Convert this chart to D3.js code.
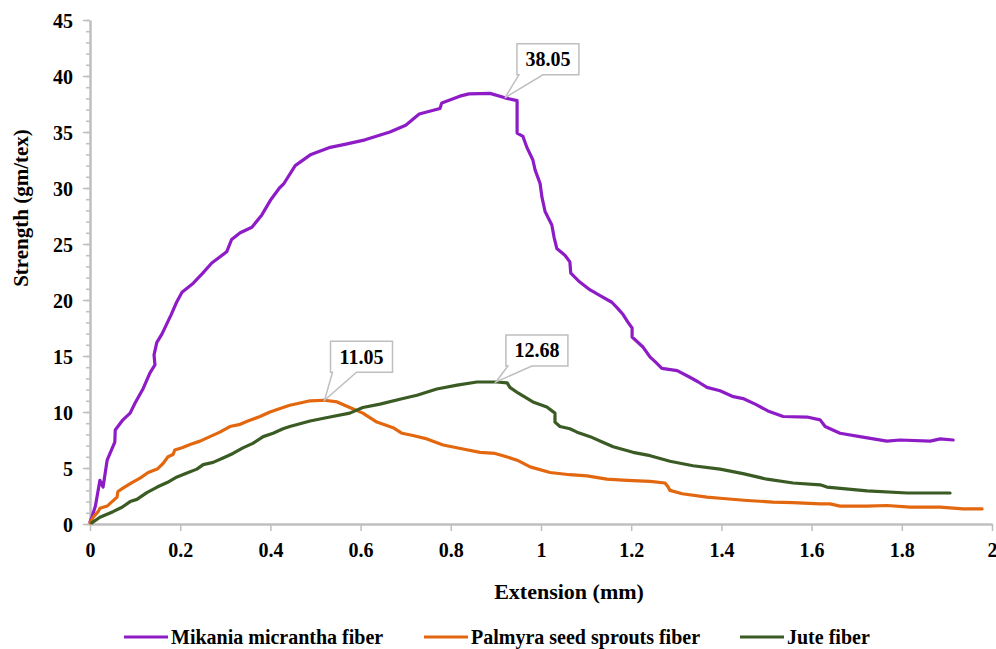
<!DOCTYPE html>
<html>
<head>
<meta charset="utf-8">
<script src="https://cdn.jsdelivr.net/npm/d3@7"></script>
<style>
  body { margin: 0; background: #fff; }
  svg { display: block; }
  text { font-family: "Liberation Serif", "Times New Roman", serif; font-weight: bold; fill: #000; }
</style>
</head>
<body>
<svg id="chart"></svg>
<script>
// series names + colours
const seriesNames = ['Mikania micrantha fiber', 'Palmyra seed sprouts fiber', 'Jute fiber'];
const seriesColors = ['#8e1cc6', '#e2670e', '#3b5b24'];

// Mikania micrantha fiber (extension mm, strength gm/tex)
const mikaniaX = [0, 0.004, 0.012, 0.022, 0.029, 0.038, 0.055, 0.056, 0.073, 0.089, 0.1, 0.104, 0.118, 0.133, 0.144, 0.142, 0.148, 0.16, 0.18, 0.192, 0.204, 0.229, 0.25, 0.27, 0.303, 0.314, 0.333, 0.359, 0.381, 0.4, 0.42, 0.43, 0.455, 0.49, 0.53, 0.565, 0.61, 0.665, 0.7, 0.73, 0.776, 0.78, 0.82, 0.84, 0.887, 0.92, 0.947, 0.947, 0.947, 0.96, 0.969, 0.982, 0.987, 0.998, 1.002, 1.009, 1.024, 1.029, 1.035, 1.053, 1.064, 1.066, 1.086, 1.109, 1.131, 1.157, 1.169, 1.182, 1.193, 1.202, 1.202, 1.226, 1.242, 1.253, 1.268, 1.302, 1.33, 1.348, 1.368, 1.397, 1.424, 1.448, 1.475, 1.503, 1.537, 1.59, 1.619, 1.63, 1.663, 1.707, 1.767, 1.796, 1.863, 1.885, 1.914];
const mikaniaY = [0.2, 0.6, 1.6, 3.9, 3.3, 5.7, 7.3, 8.4, 9.3, 9.9, 10.8, 11.1, 12.1, 13.5, 14.2, 15.1, 16.2, 17.0, 18.7, 19.8, 20.7, 21.5, 22.4, 23.3, 24.3, 25.4, 26.0, 26.5, 27.6, 28.9, 30.0, 30.4, 32.0, 33.0, 33.6, 33.9, 34.3, 35.0, 35.6, 36.6, 37.1, 37.6, 38.2, 38.4, 38.45, 38.05, 37.8, 37.0, 34.9, 34.6, 33.6, 32.5, 31.6, 30.4, 29.2, 27.9, 26.7, 25.6, 24.6, 24.0, 23.4, 22.4, 21.6, 20.9, 20.4, 19.8, 19.3, 18.7, 18.0, 17.5, 16.7, 15.8, 14.9, 14.5, 13.9, 13.7, 13.1, 12.7, 12.2, 11.9, 11.4, 11.2, 10.7, 10.1, 9.6, 9.55, 9.3, 8.7, 8.1, 7.8, 7.4, 7.5, 7.4, 7.6, 7.5];

// Palmyra seed sprouts fiber
const palmyraX = [0, 0.007, 0.018, 0.022, 0.038, 0.049, 0.06, 0.062, 0.073, 0.093, 0.111, 0.129, 0.149, 0.162, 0.173, 0.184, 0.188, 0.204, 0.222, 0.244, 0.266, 0.288, 0.31, 0.333, 0.35, 0.377, 0.399, 0.428, 0.443, 0.466, 0.488, 0.52, 0.548, 0.576, 0.605, 0.636, 0.672, 0.692, 0.716, 0.747, 0.783, 0.827, 0.865, 0.898, 0.916, 0.947, 0.976, 1.02, 1.064, 1.102, 1.146, 1.191, 1.242, 1.275, 1.282, 1.286, 1.313, 1.368, 1.397, 1.457, 1.514, 1.559, 1.619, 1.641, 1.663, 1.723, 1.767, 1.818, 1.885, 1.936, 1.978];
const palmyraY = [0.1, 0.6, 1.1, 1.4, 1.6, 2.0, 2.4, 2.9, 3.2, 3.7, 4.1, 4.6, 4.9, 5.4, 6.0, 6.2, 6.6, 6.8, 7.1, 7.4, 7.8, 8.2, 8.7, 8.9, 9.2, 9.6, 10.0, 10.4, 10.6, 10.8, 11.0, 11.05, 10.9, 10.4, 9.9, 9.1, 8.6, 8.1, 7.9, 7.6, 7.05, 6.7, 6.4, 6.3, 6.1, 5.7, 5.1, 4.6, 4.4, 4.3, 4.0, 3.9, 3.8, 3.66, 3.3, 3.0, 2.7, 2.4, 2.3, 2.1, 1.96, 1.9, 1.8, 1.8, 1.6, 1.6, 1.65, 1.5, 1.5, 1.35, 1.35];

// Jute fiber
const juteX = [0.004, 0.022, 0.051, 0.071, 0.089, 0.104, 0.126, 0.149, 0.171, 0.193, 0.215, 0.237, 0.251, 0.273, 0.295, 0.317, 0.339, 0.361, 0.384, 0.406, 0.428, 0.443, 0.488, 0.532, 0.576, 0.605, 0.643, 0.694, 0.725, 0.769, 0.814, 0.858, 0.902, 0.925, 0.931, 0.949, 0.982, 1.013, 1.031, 1.031, 1.042, 1.064, 1.08, 1.109, 1.137, 1.16, 1.204, 1.242, 1.286, 1.337, 1.397, 1.448, 1.501, 1.559, 1.619, 1.634, 1.723, 1.812, 1.907];
const juteY = [0.1, 0.6, 1.1, 1.5, 2.0, 2.2, 2.8, 3.3, 3.7, 4.2, 4.55, 4.9, 5.3, 5.5, 5.9, 6.3, 6.8, 7.2, 7.8, 8.1, 8.5, 8.7, 9.2, 9.55, 9.9, 10.4, 10.7, 11.2, 11.5, 12.05, 12.4, 12.68, 12.68, 12.6, 12.2, 11.7, 10.9, 10.45, 9.9, 9.1, 8.7, 8.5, 8.2, 7.8, 7.3, 6.9, 6.4, 6.1, 5.6, 5.2, 4.9, 4.5, 4.0, 3.66, 3.5, 3.3, 2.95, 2.77, 2.77];

// peak labels
const peakX = [0.92, 0.52, 0.90];
const peakY = [38.05, 11.05, 12.68];
const peakText = ['38.05', '11.05', '12.68'];

const xTicks = [0, 0.2, 0.4, 0.6, 0.8, 1, 1.2, 1.4, 1.6, 1.8, 2];
const yTicks = [0, 5, 10, 15, 20, 25, 30, 35, 40, 45];

const width = 996;
const height = 649;
const axisGray = '#bfbfbf';

const svg = d3.select('#chart')
    .attr('width', width)
    .attr('height', height);

const x = d3.scaleLinear().domain([0, 2]).range([90, 992]);
const y = d3.scaleLinear().domain([0, 45]).range([524, 20]);

// y axis (minor ticks every 1)
const yMinor = d3.range(0, 46, 1);
svg.append('g')
    .attr('transform', 'translate(' + x(0) + ',0)')
    .call(d3.axisLeft(y).tickValues(yMinor).tickSize(4).tickFormat(''))
    .call(g => g.select('.domain').remove())
    .call(g => g.selectAll('line').attr('stroke', axisGray).attr('stroke-width', 1.5));

const yAxis = svg.append('g')
    .attr('transform', 'translate(' + x(0) + ',0)')
    .call(d3.axisLeft(y).tickValues(yTicks).tickSize(7).tickSizeOuter(0).tickPadding(10));
yAxis.select('.domain').attr('stroke', axisGray).attr('stroke-width', 2.5);
yAxis.selectAll('line').attr('stroke', axisGray).attr('stroke-width', 1.5);
yAxis.selectAll('text')
    .style('font-size', '20px')
    .attr('font-family', null)
    .attr('dy', '0.35em');

const xAxis = svg.append('g')
    .attr('transform', 'translate(0,' + y(0) + ')')
    .call(d3.axisBottom(x).tickValues(xTicks).tickSize(7).tickSizeOuter(0).tickPadding(12)
        .tickFormat(d => d3.format('~g')(d)));
xAxis.select('.domain').attr('stroke', axisGray).attr('stroke-width', 2.5);
xAxis.selectAll('line').attr('stroke', axisGray).attr('stroke-width', 1.5);
xAxis.selectAll('text')
    .style('font-size', '20px')
    .attr('font-family', null);

// axis titles
svg.append('text')
    .attr('x', 569)
    .attr('y', 599)
    .attr('text-anchor', 'middle')
    .style('font-size', '22px')
    .text('Extension (mm)');

svg.append('text')
    .attr('transform', 'translate(28,208) rotate(-90)')
    .attr('text-anchor', 'middle')
    .style('font-size', '21px')
    .text('Strength (gm/tex)');

// lines
const seriesData = [
    d3.zip(mikaniaX, mikaniaY),
    d3.zip(palmyraX, palmyraY),
    d3.zip(juteX, juteY)
];

const line = d3.line()
    .x(d => x(d[0]))
    .y(d => y(d[1]));

svg.selectAll('path.series')
    .data(seriesData)
    .enter()
    .append('path')
    .attr('class', 'series')
    .attr('fill', 'none')
    .attr('stroke', (d, i) => seriesColors[i])
    .attr('stroke-width', 3.2)
    .attr('stroke-linejoin', 'round')
    .attr('stroke-linecap', 'round')
    .attr('d', line);

// callouts: box offset from the peak point (px)
const boxOffsets = [[12, -54], [6, -59], [10, -47]];
const boxW = 62;
const boxH = 31;

peakText.forEach((t, i) => {
    const px = x(peakX[i]);
    const py = y(peakY[i]);
    const bx = px + boxOffsets[i][0];
    const by = py + boxOffsets[i][1];
    const p = d3.path();
    p.moveTo(bx, by);
    p.lineTo(bx + boxW, by);
    p.lineTo(bx + boxW, by + boxH);
    p.lineTo(bx + 26, by + boxH);
    p.lineTo(px, py);
    p.lineTo(bx + 2, by + boxH);
    p.lineTo(bx, by + boxH);
    p.closePath();
    svg.append('path')
        .attr('d', p.toString())
        .attr('fill', '#fff')
        .attr('stroke', axisGray)
        .attr('stroke-width', 1.5);
    svg.append('text')
        .attr('x', bx + boxW / 2)
        .attr('y', by + boxH / 2)
        .attr('dy', '0.35em')
        .attr('text-anchor', 'middle')
        .style('font-size', '20px')
        .text(t);
});

// legend
const legendX = [124, 424, 740];
const legend = svg.selectAll('g.legend')
    .data(seriesNames)
    .enter()
    .append('g')
    .attr('class', 'legend')
    .attr('transform', (d, i) => 'translate(' + legendX[i] + ',637)');

legend.append('line')
    .attr('x1', 0)
    .attr('x2', 44)
    .attr('stroke', (d, i) => seriesColors[i])
    .attr('stroke-width', 3.2);

legend.append('text')
    .attr('x', 47)
    .attr('dy', '0.35em')
    .style('font-size', '20px')
    .text(d => d);
</script>
</body>
</html>
